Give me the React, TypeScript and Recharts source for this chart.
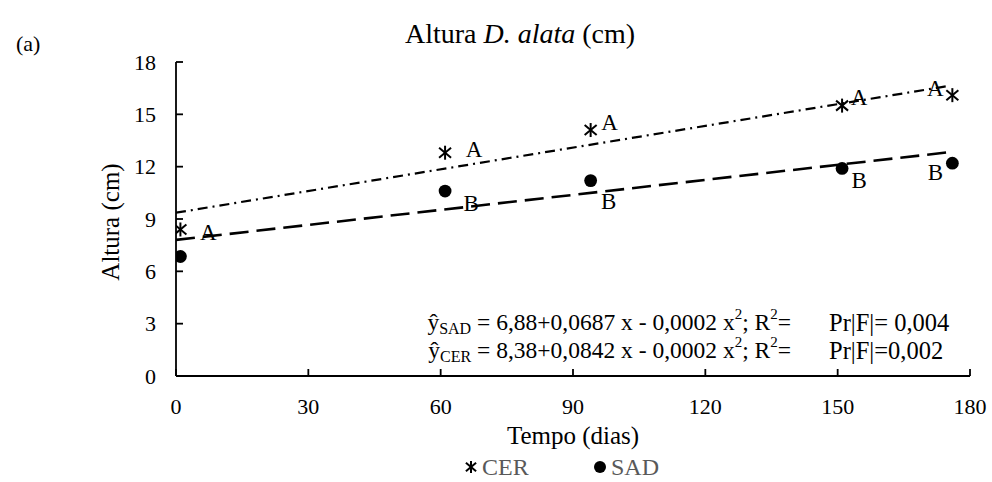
import React from 'react';
import { ComposedChart, XAxis, YAxis, Scatter, Line, Legend, Customized } from 'recharts';

// ---- data ----
const days = [1, 61, 94, 151, 176];
const cerValues = [8.4, 12.8, 14.1, 15.5, 16.1];
const sadValues = [6.85, 10.6, 11.2, 11.9, 12.2];
const cerLetters = ['A', 'A', 'A', 'A', 'A'];
const sadLetters = ['', 'B', 'B', 'B', 'B'];
const xTicks = [0, 30, 60, 90, 120, 150, 180];
const yTicks = [0, 3, 6, 9, 12, 15, 18];
const cerTrendX = [0, 175];
const cerTrendY = [9.36, 16.62];
const sadTrendX = [0, 176];
const sadTrendY = [7.8, 12.85];

// ---- styling ----
const FONT = "'Liberation Serif', 'Times New Roman', Times, serif";
const cerLabelOffsets = [[28, 3], [29, -3], [19, -8], [17, -8], [-17, -7]];
const sadLabelOffsets = [[0, 0], [26, 12], [18, 21], [17, 12], [-17, 9]];

const cerData = days.map((d, i) => ({ x: d, y: cerValues[i], letter: cerLetters[i], i }));
const sadData = days.map((d, i) => ({ x: d, y: sadValues[i], letter: sadLetters[i], i }));
const cerTrend = cerTrendX.map((x, i) => ({ x, y: cerTrendY[i] }));
const sadTrend = sadTrendX.map((x, i) => ({ x, y: sadTrendY[i] }));

const Asterisk = ({ cx, cy, size = 1 }: any) => (
  <g stroke="#000" strokeWidth={2} fill="none">
    <line x1={cx} y1={cy - 7 * size} x2={cx} y2={cy + 7 * size} />
    <line x1={cx - 6 * size} y1={cy - 5 * size} x2={cx + 6 * size} y2={cy + 5 * size} />
    <line x1={cx - 6 * size} y1={cy + 5 * size} x2={cx + 6 * size} y2={cy - 5 * size} />
  </g>
);

const CerShape = (props: any) => {
  const { cx, cy, payload } = props;
  const off = cerLabelOffsets[payload.i];
  return (
    <g>
      <Asterisk cx={cx} cy={cy} />
      {payload.letter ? (
        <text x={cx + off[0]} y={cy + off[1]} textAnchor="middle" dominantBaseline="central"
          fontFamily={FONT} fontSize={23} fill="#000">{payload.letter}</text>
      ) : null}
    </g>
  );
};

const SadShape = (props: any) => {
  const { cx, cy, payload } = props;
  const off = sadLabelOffsets[payload.i];
  return (
    <g>
      <circle cx={cx} cy={cy} r={6.4} fill="#000" />
      {payload.letter ? (
        <text x={cx + off[0]} y={cy + off[1]} textAnchor="middle" dominantBaseline="central"
          fontFamily={FONT} fontSize={23} fill="#000">{payload.letter}</text>
      ) : null}
    </g>
  );
};

const Texts = () => (
  <g fontFamily={FONT} fill="#000">
    <text x={520} y={33} textAnchor="middle" dominantBaseline="central" fontSize={28}>
      Altura <tspan fontStyle="italic">D. alata</tspan> (cm)
    </text>
    <text x={16} y={43} dominantBaseline="central" fontSize={22}>(a)</text>
    <text x={791} y={322} textAnchor="end" dominantBaseline="central" fontSize={23.5}>
      <tspan>ŷ</tspan><tspan fontSize={16} dy={6}>SAD</tspan><tspan dy={-6}> = 6,88+0,0687 x - 0,0002 x</tspan><tspan fontSize={15} dy={-8}>2</tspan><tspan dy={8}>; R</tspan><tspan fontSize={15} dy={-8}>2</tspan><tspan dy={8}>=</tspan>
    </text>
    <text x={829} y={322} dominantBaseline="central" fontSize={24.5}>Pr|F|= 0,004</text>
    <text x={791} y={350} textAnchor="end" dominantBaseline="central" fontSize={23.5}>
      <tspan>ŷ</tspan><tspan fontSize={16} dy={6}>CER</tspan><tspan dy={-6}> = 8,38+0,0842 x - 0,0002 x</tspan><tspan fontSize={15} dy={-8}>2</tspan><tspan dy={8}>; R</tspan><tspan fontSize={15} dy={-8}>2</tspan><tspan dy={8}>=</tspan>
    </text>
    <text x={829} y={350} dominantBaseline="central" fontSize={24.5}>Pr|F|=0,002</text>
  </g>
);

const LegendContent = () => (
  <svg width={992} height={30} style={{ display: 'block' }}>
    <Asterisk cx={471} cy={15} size={0.85} />
    <text x={482} y={15} dominantBaseline="central" fontFamily={FONT} fontSize={24} fill="#595959">CER</text>
    <circle cx={600} cy={15} r={6} fill="#000" />
    <text x={611} y={15} dominantBaseline="central" fontFamily={FONT} fontSize={24} fill="#595959">SAD</text>
  </svg>
);

const XLabel = () => (
  <text x={573} y={435} textAnchor="middle" dominantBaseline="central" fontFamily={FONT} fontSize={25} fill="#000">
    Tempo (dias)
  </text>
);

const YLabel = () => (
  <text x={110} y={222} textAnchor="middle" dominantBaseline="central" fontFamily={FONT} fontSize={25} fill="#000"
    transform="rotate(-90 110 222)">
    Altura (cm)
  </text>
);

export default function App() {
  return (
    <div style={{ position: 'absolute', left: 0, top: 0, width: 992, height: 482, background: '#fff' }}>
      <ComposedChart width={992} height={482} margin={{ top: 62, right: 22, bottom: 0, left: 96 }}>
        <XAxis
          type="number"
          dataKey="x"
          domain={[0, 180]}
          ticks={xTicks}
          height={76}
          axisLine={{ stroke: '#000', strokeWidth: 1.8 }}
          tickLine={{ stroke: '#000', strokeWidth: 1.8 }}
          tickSize={-7}
          tickMargin={29}
          tick={{ fill: '#000', fontSize: 22, fontFamily: FONT }}
          label={<XLabel />}
          allowDataOverflow
        />
        <YAxis
          type="number"
          dataKey="y"
          domain={[0, 18]}
          ticks={yTicks}
          width={80}
          axisLine={{ stroke: '#000', strokeWidth: 1.8 }}
          tickLine={{ stroke: '#000', strokeWidth: 1.8 }}
          tickSize={-7}
          tickMargin={27}
          tick={{ fill: '#000', fontSize: 22, fontFamily: FONT }}
          label={<YLabel />}
          allowDataOverflow
        />
        <Legend verticalAlign="bottom" height={30} content={<LegendContent />}
          wrapperStyle={{ left: 0, width: 992 }} />
        <Line data={cerTrend} dataKey="y" type="linear" stroke="#000" strokeWidth={2.2}
          strokeDasharray="10 5 2 5" dot={false} activeDot={false} isAnimationActive={false}
          legendType="none" name="CER trend" />
        <Line data={sadTrend} dataKey="y" type="linear" stroke="#000" strokeWidth={2.6}
          strokeDasharray="19 8" dot={false} activeDot={false} isAnimationActive={false}
          legendType="none" name="SAD trend" />
        <Scatter data={cerData} dataKey="y" name="CER" shape={<CerShape />} isAnimationActive={false} />
        <Scatter data={sadData} dataKey="y" name="SAD" shape={<SadShape />} isAnimationActive={false} />
        <Customized component={<Texts />} />
      </ComposedChart>
    </div>
  );
}
